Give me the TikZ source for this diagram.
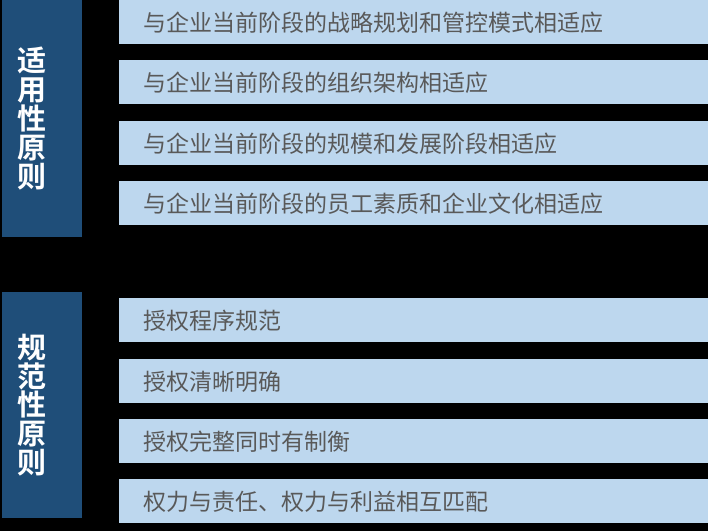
\documentclass[tikz,border=0pt]{standalone}
\usepackage{fontspec}
\newfontfamily\cjk{Noto Sans CJK SC}
\newfontfamily\cjkb{Noto Sans CJK SC Bold}
\definecolor{darkbox}{HTML}{1F4E79}
\definecolor{lightbar}{HTML}{BDD7EE}
\definecolor{bartext}{HTML}{595959}
\begin{document}
\begin{tikzpicture}[x=1pt,y=-1pt,
  bar/.style={fill=lightbar,draw=none},
  side/.style={fill=darkbox,draw=none},
  bartxt/.style={anchor=west,inner sep=0pt,text=bartext,font=\cjk\fontsize{23}{24}\selectfont},
  sidetxt/.style={inner sep=0pt,text=white,align=center,font=\cjkb\fontsize{29}{28.8}\selectfont}]
\fill[black] (0,0) rectangle (708,531);
\useasboundingbox (0,0) rectangle (708,531);
% left boxes
\fill[side] (2,0) rectangle (82,237);
\fill[side] (2,292) rectangle (82,518);
\node[sidetxt] (s1) at (31.5,118.5) {适\\用\\性\\原\\则};
\node[sidetxt] (s2) at (31.5,405) {规\\范\\性\\原\\则};
% bars
\foreach \i/\y/\t in {1/0/与企业当前阶段的战略规划和管控模式相适应,
                      2/60/与企业当前阶段的组织架构相适应,
                      3/121/与企业当前阶段的规模和发展阶段相适应,
                      4/181/与企业当前阶段的员工素质和企业文化相适应,
                      5/298/授权程序规范,
                      6/358.5/授权清晰明确,
                      7/419/授权完整同时有制衡,
                      8/479/权力与责任、权力与利益相互匹配}{
  \fill[bar] (119,\y) rectangle (708,\y+44);
  \node[bartxt] (t\i) at (143,\y+23) {\t};
}
\end{tikzpicture}
\end{document}
